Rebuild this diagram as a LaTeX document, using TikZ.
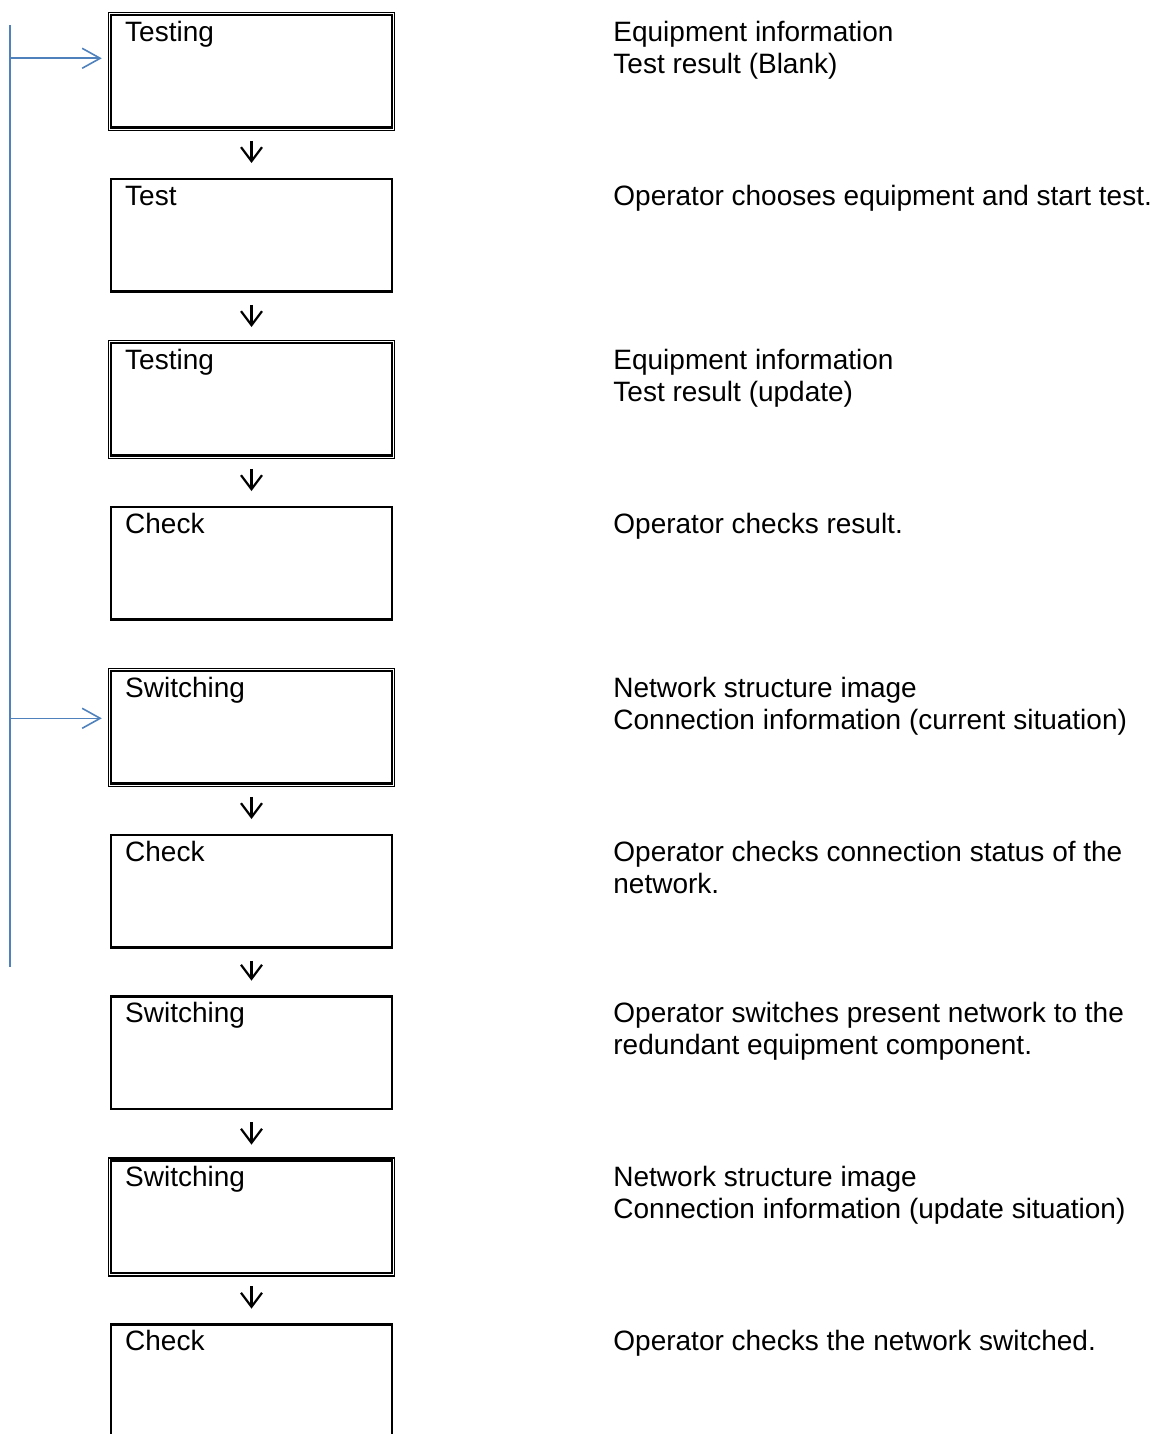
\documentclass[tikz,border=0pt]{standalone}
\usepackage{fontspec}
\setmainfont{Liberation Sans}
\usepackage{xcolor}
\usetikzlibrary{
  	positioning,
  	arrows.meta
  }
\definecolor{loopblue}{HTML}{4F81BD}
\tikzstyle{box}=[rectangle,draw,line width=1.2pt,minimum width=140.5pt,minimum height=56.3pt,inner sep=0pt]
\tikzstyle{frame}=[draw,line width=0.6pt]
\tikzstyle{lbl}=[inner sep=0pt,anchor=base west]
\tikzstyle{note}=[inner sep=0pt,anchor=base west]
\tikzstyle{flow}=[line width=1.1pt,-{Straight Barb[length=7pt,width=10.5pt]},shorten <=6pt,shorten >=7.4pt]
\tikzstyle{feed}=[loopblue,line width=0.8pt,-{Straight Barb[length=9pt,width=10pt]}]
\newcommand{\lines}[1]{\begin{tabular}[t]{@{}l@{}}#1\end{tabular}}

\begin{document}
\begin{tikzpicture}[x=0.5pt,y=-0.5pt,node distance=24.5pt,
    every node/.style={font=\fontsize{14}{16}\selectfont}]
    \useasboundingbox (0,0) rectangle (1158,1434);
    % boxes
    \node[box] (b1) at (251.5,71.3) {};
    \node[box,below=of b1] (b2) {};
    \node[box,below=of b2] (b3) {};
    \node[box,below=of b3] (b4) {};
    \node[box,below=of b4] (b5) {};
    \node[box,below=of b5] (b6) {};
    \node[box,below=23.3pt of b6] (b7) {};
    \node[box,below=of b7] (b8) {};
    \node[box,below=of b8] (b9) {};
    % outer frame of the screen boxes
    \draw[frame] ([shift={(-1.5,-1.5)}]b1.north west) rectangle ([shift={(1.5,1.5)}]b1.south east);
    \draw[frame] ([shift={(-1.5,-1.5)}]b3.north west) rectangle ([shift={(1.5,1.5)}]b3.south east);
    \draw[frame] ([shift={(-1.5,-1.5)}]b5.north west) rectangle ([shift={(1.5,1.5)}]b5.south east);
    \draw[frame] ([shift={(-1.5,-1.5)}]b8.north west) rectangle ([shift={(1.5,1.5)}]b8.south east);
    % box titles
    \node[lbl] (t1) at ([shift={(15,27.5)}]b1.north west) {Testing};
    \node[lbl] (t2) at ([shift={(15,27.5)}]b2.north west) {Test};
    \node[lbl] (t3) at ([shift={(15,27.5)}]b3.north west) {Testing};
    \node[lbl] (t4) at ([shift={(15,27.5)}]b4.north west) {Check};
    \node[lbl] (t5) at ([shift={(15,27.5)}]b5.north west) {Switching};
    \node[lbl] (t6) at ([shift={(15,27.5)}]b6.north west) {Check};
    \node[lbl] (t7) at ([shift={(15,27.5)}]b7.north west) {Switching};
    \node[lbl] (t8) at ([shift={(15,27.5)}]b8.north west) {Switching};
    \node[lbl] (t9) at ([shift={(15,27.5)}]b9.north west) {Check};
    % notes on the right
    \coordinate (nx) at (613,0);
    \node[note] (n1) at (t1.base -| nx) {\lines{Equipment information\\Test result (Blank)}};
    \node[note] (n2) at (t2.base -| nx) {\lines{Operator chooses equipment and start test.}};
    \node[note] (n3) at (t3.base -| nx) {\lines{Equipment information\\Test result (update)}};
    \node[note] (n4) at (t4.base -| nx) {\lines{Operator checks result.}};
    \node[note] (n5) at (t5.base -| nx) {\lines{Network structure image\\Connection information (current situation)}};
    \node[note] (n6) at (t6.base -| nx) {\lines{Operator checks connection status of the\\network.}};
    \node[note] (n7) at (t7.base -| nx) {\lines{Operator switches present network to the\\redundant equipment component.}};
    \node[note] (n8) at (t8.base -| nx) {\lines{Network structure image\\Connection information (update situation)}};
    \node[note] (n9) at (t9.base -| nx) {\lines{Operator checks the network switched.}};
    % flow (no step from b4 to b5)
    \draw[flow] (b1) -- (b2);
    \draw[flow] (b2) -- (b3);
    \draw[flow] (b3) -- (b4);
    \draw[flow] (b5) -- (b6);
    \draw[flow] (b6) -- (b7);
    \draw[flow] (b7) -- (b8);
    \draw[flow] (b8) -- (b9);
    % return line
    \coordinate (ltop) at (10,25);
    \coordinate (lbot) at (10,967);
    \coordinate (in1) at ([shift={(-8,-13)}]b1.west);
    \coordinate (in5) at ([shift={(-8,-9)}]b5.west);
    \draw[loopblue,line width=0.8pt] (ltop) -- (lbot);
    \draw[feed] (ltop |- in1) -- (in1);
    \draw[feed] (ltop |- in5) -- (in5);
\end{tikzpicture}
\end{document}
